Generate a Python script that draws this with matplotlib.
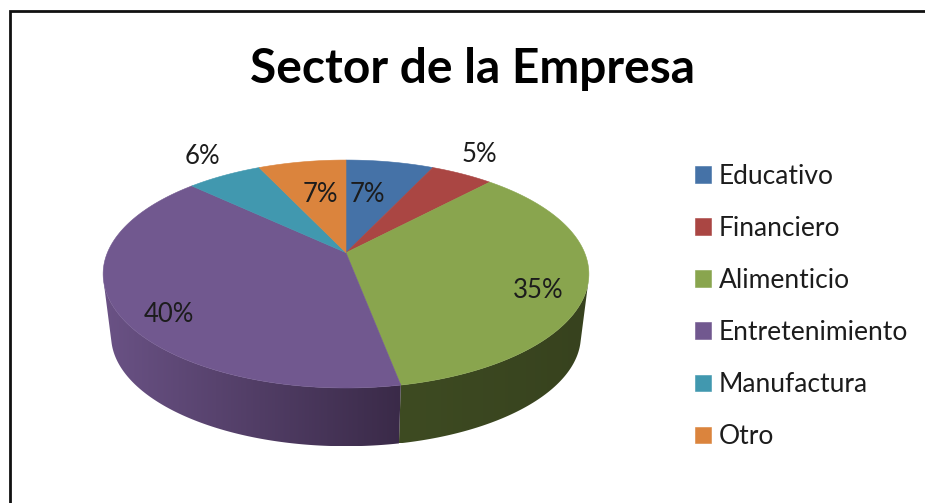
import numpy as np
import matplotlib
matplotlib.use("Agg")
import matplotlib.pyplot as plt
from matplotlib.colors import to_rgb
from matplotlib.patches import Polygon

plt.rcParams["font.family"] = ["Lato", "DejaVu Sans"]

# datos del grafico
sectores = ["Educativo", "Financiero", "Alimenticio", "Entretenimiento", "Manufactura", "Otro"]
valores = [7, 5, 35, 40, 6, 7]
colores = ["#4572A7", "#AA4643", "#89A54E", "#71588F", "#4198AF", "#DB843D"]
pared_izq = ["#34557c", "#7e3432", "#3e4b22", "#6a5285", "#30708a", "#a0602d"]
pared_der = ["#34557c", "#7e3432", "#37421e", "#3a2a48", "#30708a", "#a0602d"]
etiquetas = ["7%", "5%", "35%", "40%", "6%", "7%"]
etiqueta_x = [367, 479, 538, 169, 202, 320]
etiqueta_y = [194, 154, 290, 314, 157, 194]

# geometria de la torta en pixeles (perspectiva)
cx, cy = 346, 252.7
a, b, k = 238.6, 110, 0.187
prof, esc = 62.7, 0.967


def borde(ang, abajo=False):
    # angulo en grados, horario desde arriba
    t = np.radians(ang)
    den = 1 + k * np.cos(t)
    x = a * np.sin(t) / den
    y = b * np.cos(t) / den
    if abajo:
        return cx + esc * x, cy - esc * y + prof
    return cx + x, cy - y


# angulos donde la pared deja de verse (tangente entre borde de arriba y de abajo)
prueba = np.arange(0.0, 360.0, 0.25)
xa, ya = borde(prueba)
xb, yb = borde(prueba, abajo=True)
cruz = np.gradient(xa) * (yb - ya) - np.gradient(ya) * (xb - xa)
cambios = prueba[:-1][np.sign(cruz[:-1]) != np.sign(cruz[1:])]
vis_der = cambios[(cambios > 45) & (cambios < 180)][0]
vis_izq = cambios[(cambios > 180) & (cambios < 315)][0]

fig = plt.figure(figsize=(9.25, 5.03), dpi=100)
ax = fig.add_axes([0, 0, 1, 1])

fin = np.cumsum(valores) * 360 / sum(valores)
ini = np.concatenate([[0], fin[:-1]])

# paredes laterales con degradado (solo la parte visible)
for i in range(len(valores)):
    a1, a2 = max(ini[i], vis_der), min(fin[i], vis_izq)
    if a2 <= a1:
        continue
    ang = np.linspace(a1, a2, 120)
    x1, y1 = borde(ang)
    x2, y2 = borde(ang, abajo=True)
    px = np.concatenate([x1, x2[::-1]])
    py = np.concatenate([y1, y2[::-1]])
    c1 = np.array(to_rgb(pared_izq[i]))
    c2 = np.array(to_rgb(pared_der[i]))
    f = np.linspace(0, 1, 256)[:, None]
    grad = (c1 * (1 - f) + c2 * f)[None, :, :]
    im = ax.imshow(grad, extent=(px.min(), px.max(), py.max(), py.min()), aspect="auto",
                   interpolation="bilinear", zorder=1)
    im.set_clip_path(Polygon(np.column_stack([px, py]), transform=ax.transData))

# cara superior
for i in range(len(valores)):
    ang = np.linspace(ini[i], fin[i], 120)
    x1, y1 = borde(ang)
    ax.fill(np.concatenate([[cx], x1]), np.concatenate([[cy], y1]), color=colores[i],
            lw=0.4, zorder=2, label=sectores[i])

for i in range(len(valores)):
    ax.text(etiqueta_x[i], etiqueta_y[i], etiquetas[i], fontsize=18.5, color="#1c1c1c",
            ha="center", va="center", zorder=3)

ax.set_xlim(0, 925)
ax.set_ylim(503, 0)
ax.axis("off")

# marco (solo arriba e izquierda)
ax.plot([9.7, 9.7, 925], [503, 11.3, 11.3], color="#111111", lw=2, solid_joinstyle="miter", zorder=4)

ax.text(472, 69, "Sector de la Empresa", fontsize=34.5, fontweight="bold", color="black",
        ha="center", va="center")

ax.legend(loc="upper left", bbox_to_anchor=(695 / 925, 1 - 164 / 503), frameon=False,
          fontsize=19, handlelength=0.6, handleheight=0.6, handletextpad=0.3,
          labelspacing=1.025, borderpad=0, borderaxespad=0, labelcolor="#1c1c1c")

fig.savefig("out.png", dpi=100)
